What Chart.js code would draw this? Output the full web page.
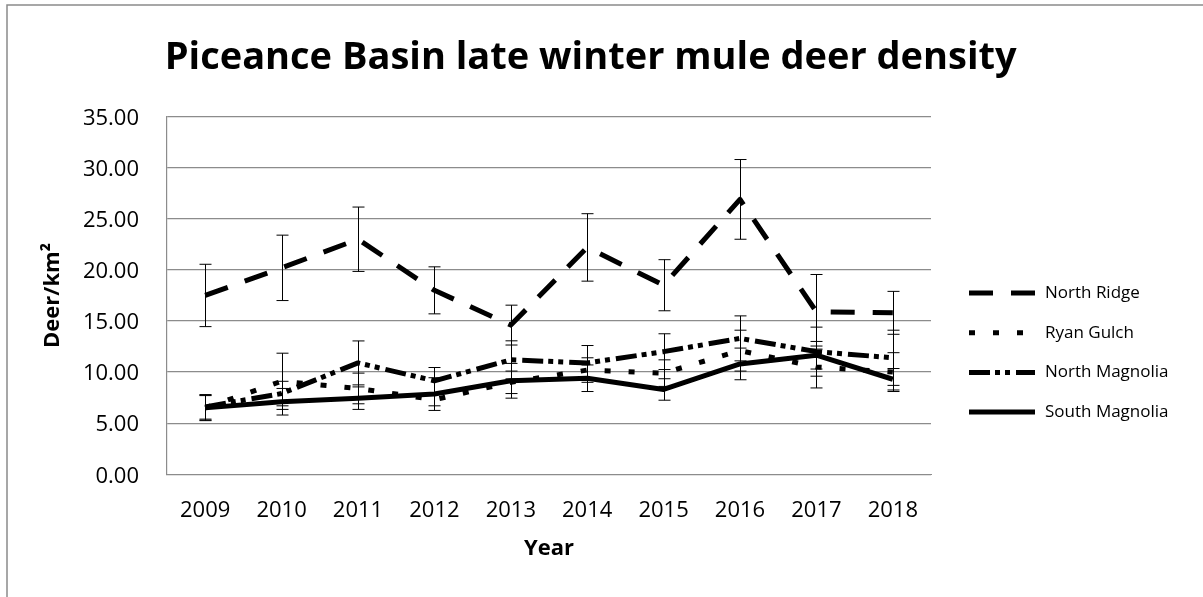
<!DOCTYPE html>
<html>
<head>
<meta charset="utf-8">
<script src="https://cdn.jsdelivr.net/npm/chart.js@4/dist/chart.umd.min.js"></script>
<style>
  html, body { margin: 0; padding: 0; background: #fff; }
  #wrap { width: 1203px; height: 597px; position: relative; }
</style>
</head>
<body>
<div id="wrap"><canvas id="deerChart"></canvas></div>
<script>
// Data
const years = ['2009', '2010', '2011', '2012', '2013', '2014', '2015', '2016', '2017', '2018'];
const northRidge = [17.5, 20.2, 23.0, 18.0, 14.6, 22.2, 18.5, 26.9, 15.9, 15.8];
const northRidgeErr = [3.05, 3.2, 3.15, 2.3, 1.95, 3.3, 2.5, 3.9, 3.65, 2.1];
const ryanGulch = [6.5, 9.1, 8.4, 7.3, 9.0, 10.2, 9.9, 12.1, 10.5, 10.0];
const ryanGulchErr = [1.2, 2.75, 1.5, 0.6, 1.1, 1.2, 1.3, 2.0, 2.05, 1.9];
const northMagnolia = [6.6, 7.9, 10.9, 9.15, 11.2, 10.9, 12.0, 13.3, 12.0, 11.4];
const northMagnoliaErr = [1.2, 1.2, 2.15, 1.3, 1.86, 1.7, 1.75, 2.2, 2.4, 2.7];
const southMagnolia = [6.5, 7.1, 7.45, 7.85, 9.15, 9.4, 8.3, 10.8, 11.65, 9.3];
const southMagnoliaErr = [1.25, 1.3, 1.1, 1.6, 1.7, 1.3, 1.05, 1.55, 1.35, 1.05];
const yTicks = [0, 5, 10, 15, 20, 25, 30, 35];

Chart.defaults.font.family = "'Open Sans', sans-serif";
Chart.defaults.color = '#000';

const gridGray = '#8c8c8c';

// error bars, drawn through the chart scales
const errorBars = {
  id: 'errorBars',
  beforeDatasetsDraw(chart) {
    const { ctx, scales: { x, y } } = chart;
    ctx.save();
    ctx.strokeStyle = '#000';
    ctx.lineWidth = 1;
    chart.data.datasets.forEach(ds => {
      if (!ds.errors) return;
      ds.data.forEach((v, i) => {
        const px = Math.round(x.getPixelForValue(i)) + 0.5;
        const top = y.getPixelForValue(v + ds.errors[i]);
        const bot = y.getPixelForValue(v - ds.errors[i]);
        ctx.beginPath();
        ctx.moveTo(px, top); ctx.lineTo(px, bot);
        ctx.moveTo(px - 6, top); ctx.lineTo(px + 6, top);
        ctx.moveTo(px - 6, bot); ctx.lineTo(px + 6, bot);
        ctx.stroke();
      });
    });
    ctx.restore();
  }
};

// outer chart frame (only top and left edges show in the picture)
const frame = {
  id: 'frame',
  beforeDraw(chart) {
    const ctx = chart.ctx;
    ctx.save();
    ctx.fillStyle = '#fff';
    ctx.fillRect(0, 0, chart.width, chart.height);
    ctx.strokeStyle = '#8a8a8a';
    ctx.lineWidth = 1.5;
    ctx.beginPath();
    ctx.moveTo(7, chart.height);
    ctx.lineTo(7, 5);
    ctx.lineTo(chart.width, 5);
    ctx.stroke();
    ctx.restore();
  }
};

// Excel style legend: dashed line samples, taken from the datasets
const dashLegend = {
  id: 'dashLegend',
  afterDraw(chart) {
    const ctx = chart.ctx;
    const left = chart.chartArea.right + 38;
    ctx.save();
    ctx.font = "17px 'Open Sans', sans-serif";
    ctx.textBaseline = 'middle';
    ctx.fillStyle = '#000';
    chart.data.datasets.forEach((ds, i) => {
      const cy = 293 + i * 39.7;
      ctx.strokeStyle = ds.borderColor;
      ctx.lineWidth = ds.borderWidth;
      ctx.lineCap = 'butt';
      ctx.setLineDash(ds.borderDash || []);
      ctx.beginPath();
      ctx.moveTo(left, cy);
      ctx.lineTo(left + 66, cy);
      ctx.stroke();
      ctx.setLineDash([]);
      ctx.fillText(ds.label, left + 76, cy);
    });
    ctx.restore();
  }
};

function series(label, data, errors, dash) {
  return {
    label: label,
    data: data,
    errors: errors,
    borderColor: '#000',
    backgroundColor: '#000',
    borderWidth: 5,
    borderDash: dash,
    borderCapStyle: 'butt',
    borderJoinStyle: 'round',
    pointRadius: 0,
    pointHoverRadius: 0,
    tension: 0,
    fill: false
  };
}

new Chart(document.getElementById('deerChart'), {
  type: 'line',
  data: {
    labels: years,
    datasets: [
      series('North Ridge', northRidge, northRidgeErr, [24, 18]),
      series('Ryan Gulch', ryanGulch, ryanGulchErr, [6, 18]),
      series('North Magnolia', northMagnolia, northMagnoliaErr, [21, 5, 5, 5, 5, 6]),
      series('South Magnolia', southMagnolia, southMagnoliaErr, [])
    ]
  },
  options: {
    responsive: true,
    maintainAspectRatio: false,
    animation: false,
    layout: { padding: { left: 35, right: 56.7, top: 8, bottom: 8 } },
    plugins: {
      title: {
        display: true,
        text: 'Piceance Basin late winter mule deer density',
        color: '#000',
        font: { size: 38, weight: 'bold' },
        padding: { top: 27, bottom: 36 }
      },
      legend: { display: false },
      tooltip: { enabled: false }
    },
    scales: {
      x: {
        offset: true,
        grid: { display: false, drawTicks: false },
        border: { display: true, color: gridGray },
        ticks: { padding: 23.5, font: { size: 22 } },
        title: { display: true, text: 'Year', font: { size: 22, weight: 'bold' }, padding: { top: 0, bottom: 27 } },
        afterFit: s => { s.height = 114.7; }
      },
      y: {
        min: 0,
        max: 35,
        grid: { color: gridGray, lineWidth: 1.2, drawTicks: false },
        border: { display: true, color: gridGray, width: 1.2 },
        afterBuildTicks: s => { s.ticks = yTicks.map(v => ({ value: v })); },
        ticks: {
          padding: 28,
          labelOffset: 2,
          font: { size: 22 },
          callback: v => Number(v).toFixed(2)
        },
        title: { display: true, text: 'Deer/km²', font: { size: 22, weight: 'bold' }, padding: { top: 4.8, bottom: 0 } },
        afterFit: s => { s.width = 132; }
      },
      gap: {
        type: 'linear',
        position: 'right',
        display: true,
        grid: { display: false, drawTicks: false },
        border: { display: false },
        ticks: { display: false },
        afterFit: s => { s.width = 215.3; }
      }
    }
  },
  plugins: [frame, errorBars, dashLegend]
});
</script>
</body>
</html>
